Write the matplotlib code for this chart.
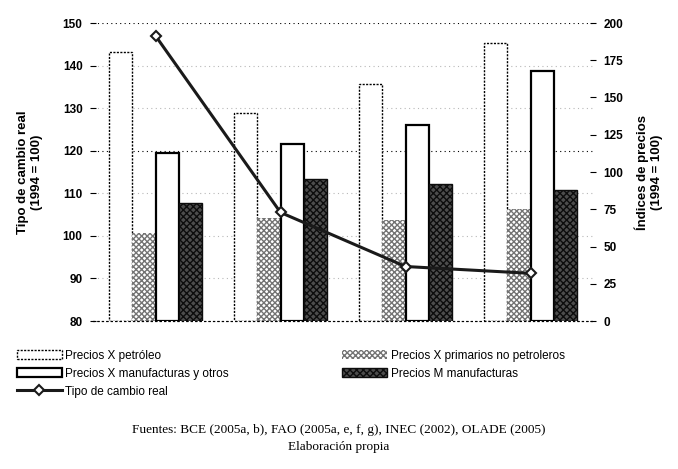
import matplotlib
matplotlib.use("Agg")
import matplotlib.pyplot as plt
import matplotlib.transforms as mtransforms
import numpy as np
from matplotlib.lines import Line2D
from matplotlib.patches import Patch

years = ["2000", "2001", "2002", "2003"]
petroleo = [180.5, 139.5, 159, 186.5]
primarios = [59, 69, 68, 75.5]
manufacturas = [113, 119, 131.5, 167.5]
m_manufacturas = [79, 95, 92, 88]
tipo_cambio = [147, 105.5, 92.8, 91.2]

plt.rcParams['font.family'] = ['Liberation Sans', 'DejaVu Sans']

fig = plt.figure(figsize=(6.78, 4.69), dpi=100)
ax = fig.add_axes([93/678, 1-321/469, 500/678, 298/469])
ax2 = ax.twinx()

x = np.arange(len(years))
w = 0.185
offs = [-1.5*w, -0.5*w, 0.5*w, 1.5*w]

ax2.set_ylim(80, 150)
ax2.set_xlim(-0.5, 3.5)
ax.set_ylim(0, 200)
ax.set_xlim(-0.5, 3.5)

# dotted gridlines on left scale, drawn behind bars
trans = mtransforms.blended_transform_factory(ax.transAxes, ax2.transData)
for v in np.arange(90, 151, 10):
    ax.plot([0, 1], [v, v], transform=trans,
            color='black' if v in (150, 120) else '0.72', linestyle=(0, (1, 3)),
            linewidth=0.8, zorder=0)

ax.bar(x+offs[0], petroleo, w, facecolor='white', edgecolor='black', linewidth=1.0,
       linestyle=(0, (1.5, 1)), zorder=2)
ax.bar(x+offs[1], primarios, w, facecolor='white', edgecolor='0.45', hatch='xxxxxx',
       linewidth=0, zorder=2)
ax.bar(x+offs[2], manufacturas, w, facecolor='white', edgecolor='black', linewidth=1.6, zorder=2)
ax.bar(x+offs[3], m_manufacturas, w, facecolor='0.3', edgecolor='0.05', hatch='xxxxx',
       linewidth=1.0, zorder=2)

ax.set_yticks(np.arange(0, 201, 25))
ax.yaxis.tick_right()
ax.yaxis.set_label_position('right')
ax.set_ylabel("Índices de precios\n(1994 = 100)", fontsize=9.5, fontweight='bold', labelpad=8)

ax2.plot(x, tipo_cambio, color='#1a1a1a', linewidth=2.2, marker='D', markersize=5.5,
         markerfacecolor='white', markeredgecolor='#1a1a1a', markeredgewidth=1.5, zorder=5)
ax2.set_yticks(np.arange(80, 151, 10))
ax2.yaxis.tick_left()
ax2.yaxis.set_label_position('left')
ax2.set_ylabel("Tipo de cambio real\n(1994 = 100)", fontsize=9.5, fontweight='bold', labelpad=14)

for a in (ax, ax2):
    for s in ['left', 'right', 'top']:
        a.spines[s].set_visible(False)
    a.spines['bottom'].set_linestyle((0, (1, 3)))
    a.spines['bottom'].set_linewidth(0.8)
    a.tick_params(axis='y', direction='inout', length=5, width=0.8, labelsize=8.5, pad=5)
    for lab in a.get_yticklabels():
        lab.set_fontweight('bold')

ax.set_xticks(x - 0.07)
ax.set_xticklabels(years, fontsize=9, fontweight='bold')
ax.tick_params(axis='x', length=0, pad=12)
ax2.set_xticks([])

handles = [
    Patch(facecolor='white', edgecolor='black', linestyle=(0, (1.5, 1)), linewidth=1.0),
    Patch(facecolor='white', edgecolor='black', linewidth=1.6),
    Line2D([0], [0], color='#1a1a1a', linewidth=2.2, marker='D', markersize=5.5,
           markerfacecolor='white', markeredgecolor='#1a1a1a', markeredgewidth=1.5),
    Patch(facecolor='white', edgecolor='0.45', hatch='xxxxxx', linewidth=0),
    Patch(facecolor='0.3', edgecolor='0.05', hatch='xxxxx', linewidth=1.0),
]
labels = ["Precios X petróleo", "Precios X manufacturas y otros", "Tipo de cambio real",
          "Precios X primarios no petroleros", "Precios M manufacturas"]
fig.legend(handles, labels, loc='upper left', bbox_to_anchor=(0.018, 1-345/469), ncol=2,
           frameon=False, fontsize=8.5, handlelength=3.8, handletextpad=0.3,
           columnspacing=9.6, labelspacing=0.5, borderaxespad=0)

fig.text(0.5, 1-430/469, "Fuentes: BCE (2005a, b), FAO (2005a, e, f, g), INEC (2002), OLADE (2005)",
         ha='center', va='center', fontsize=9.5, family='Liberation Serif')
fig.text(0.5, 1-447/469, "Elaboración propia", ha='center', va='center', fontsize=9.5,
         family='Liberation Serif')

fig.savefig("out.png", dpi=100)
